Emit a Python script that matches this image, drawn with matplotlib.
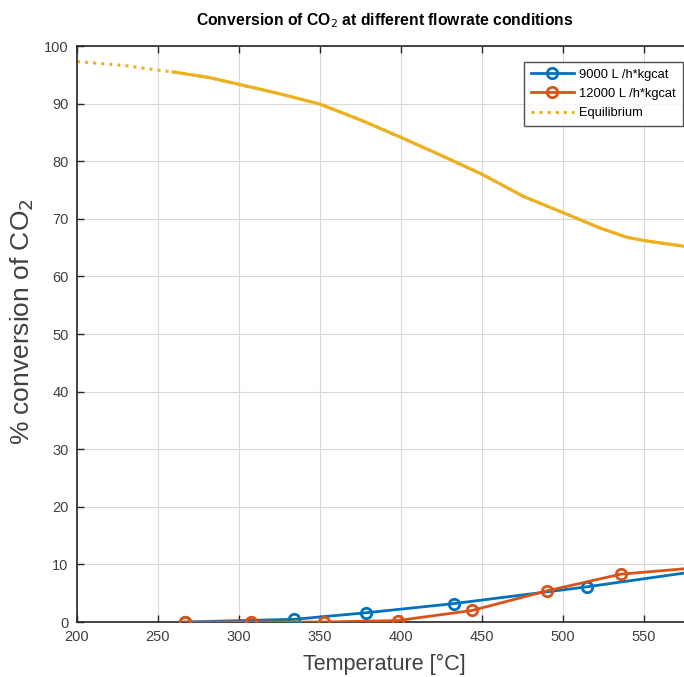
import matplotlib
matplotlib.use("Agg")
import matplotlib.pyplot as plt
from matplotlib import font_manager

# conversion data
temp_9000 = [266.7, 334.1, 378.4, 432.8, 514.6, 590]
conv_9000 = [0.0, 0.47, 1.6, 3.2, 6.1, 9.1]

temp_12000 = [266.7, 307.4, 352.5, 398.0, 443.8, 490.0, 535.6, 590]
conv_12000 = [0.0, 0.0, 0.0, 0.25, 2.0, 5.4, 8.3, 9.6]

temp_eq = [200, 230, 250, 259.4, 282.1, 300.6, 325.3, 350, 374.7, 399.4, 424.1,
           450.2, 475.5, 500.6, 522.8, 539.3, 550.6, 564, 574.3, 590]
conv_eq = [97.3, 96.6, 95.8, 95.5, 94.5, 93.3, 91.7, 89.9, 87.2, 84.2, 81.1,
           77.7, 73.9, 71.0, 68.4, 66.8, 66.2, 65.65, 65.25, 64.8]

xticks = [200, 250, 300, 350, 400, 450, 500, 550]
yticks = list(range(0, 101, 10))

BLUE, ORANGE, YELLOW = "#0072BD", "#D95319", "#EDB120"

names = {f.name for f in font_manager.fontManager.ttflist}
base = "Liberation Sans" if "Liberation Sans" in names else "DejaVu Sans"
plt.rcParams["font.family"] = [base, "DejaVu Sans"]

W, H = 684, 677
fig = plt.figure(figsize=(W / 100, H / 100), dpi=100)
# axes run up to the right edge of the picture, like the cropped original
x0, y0, y100 = 77, 622, 46
ax = fig.add_axes([x0 / W, (H - y0) / H, (574.7 - 200) * 1.62 / W, (y0 - y100) / H])

ax.plot(temp_eq, conv_eq, ":", color=YELLOW, lw=2.2, label="Equilibrium")
# the dense part of the equilibrium curve renders near-solid in the original
seg = [i for i, t in enumerate(temp_eq) if t >= 259]
ax.plot([temp_eq[i] for i in seg], [conv_eq[i] for i in seg], "-",
        color=YELLOW, lw=2.3, zorder=2, solid_joinstyle="round")
ax.plot(temp_9000, conv_9000, "-o", color=BLUE, lw=2, ms=7.5, mfc="none",
        mew=2, label="9000 L /h*kgcat", zorder=3)
ax.plot(temp_12000, conv_12000, "-o", color=ORANGE, lw=2, ms=7.5, mfc="none",
        mew=2, label="12000 L /h*kgcat", zorder=3)

ax.set_xlim(200, 574.7)
ax.set_ylim(0, 100)
ax.set_xticks(xticks)
ax.set_yticks(yticks)
ax.grid(True, color="#d9d9d9", lw=0.8)
ax.set_axisbelow(True)
ax.tick_params(direction="in", top=True, right=False, length=5, width=1,
               labelsize=10.5, labelcolor="#404040", color="#262626", pad=6)
for side in ("left", "bottom", "top"):
    ax.spines[side].set_color("#262626")
    ax.spines[side].set_linewidth(1.2)
ax.spines["right"].set_visible(False)

fig.text(384 / W, 1 - 664 / H, "Temperature [°C]", fontsize=15.5,
         color="#404040", ha="center", va="center")
fig.text(22 / W, 1 - 322 / H, "% conversion of CO$_2$", fontsize=19,
         color="#404040", ha="center", va="center", rotation=90)
fig.text(385 / W, 1 - 21 / H, "Conversion of CO$_2$ at different flowrate conditions",
         ha="center", va="center", fontsize=11.3, fontweight="bold")

handles, labels = ax.get_legend_handles_labels()
order = [1, 2, 0]
leg = ax.legend([handles[i] for i in order], [labels[i] for i in order],
                loc="upper right", bbox_to_anchor=(682.7 / W, 1 - 61.7 / H),
                bbox_transform=fig.transFigure, fontsize=9.3, frameon=True,
                fancybox=False, edgecolor="#262626", handlelength=3.3,
                borderpad=0.55, labelspacing=0.55, handletextpad=0.4,
                borderaxespad=0)
leg.get_frame().set_linewidth(1.0)

fig.savefig("out.png", dpi=100)
